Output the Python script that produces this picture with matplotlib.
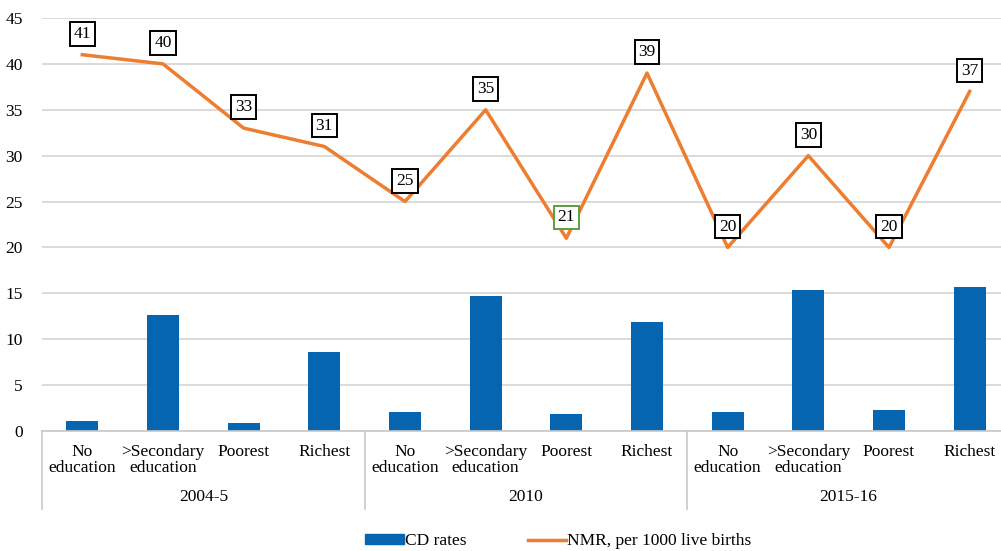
import numpy as np
import matplotlib.pyplot as plt
from matplotlib.lines import Line2D
from matplotlib.patches import Patch

plt.rcParams['font.family'] = ['Liberation Serif', 'DejaVu Serif']

# datos
grupos = ['2004-5', '2010', '2015-16']
categorias = ['No\neducation', '>Secondary\neducation', 'Poorest', 'Richest'] * 3
cd_rates = [1.1, 12.6, 0.9, 8.6, 2.1, 14.7, 1.8, 11.9, 2.1, 15.4, 2.3, 15.7]
nmr = [41, 40, 33, 31, 25, 35, 21, 39, 20, 30, 20, 37]

azul = '#0565b0'
naranja = '#ed7d31'
fs = 12.5

fig = plt.figure(figsize=(10.01, 5.51), dpi=100)
ax = fig.add_axes([42 / 1001, 120 / 551, 968 / 1001, 413 / 551])

x = np.arange(len(categorias))
ax.bar(x, cd_rates, width=0.4, color=azul, zorder=2)
ax.plot(x, nmr, color=naranja, lw=2.5, zorder=3)

# etiquetas con recuadro sobre cada punto
for i, v in enumerate(nmr):
    borde = '#5aa040' if i == 6 else 'black'
    ax.annotate(str(v), (i, v), xytext=(0, 15), textcoords='offset points',
                ha='center', va='center', fontsize=fs, zorder=4,
                bbox=dict(boxstyle='square,pad=0.22', fc='white', ec=borde, lw=1.4))

ax.set_xlim(-0.5, 11.5)
ax.set_ylim(0, 45)
ax.set_yticks(range(0, 50, 5))
ax.yaxis.grid(True, color='#d4d4d4', lw=1.2, zorder=0)
ax.set_axisbelow(True)
for s in ['top', 'right', 'left']:
    ax.spines[s].set_visible(False)
ax.spines['bottom'].set_color('#c8c8c8')
ax.spines['bottom'].set_linewidth(1.2)
ax.tick_params(axis='y', length=0, labelsize=fs, pad=14)
ax.set_xticks(x)
ax.set_xticklabels(categorias, fontsize=fs, linespacing=1.0)
ax.tick_params(axis='x', length=0, pad=9)

# separadores y nombres de los grupos
trans = ax.get_xaxis_transform()
for b in [-0.5, 3.5, 7.5]:
    ax.add_line(Line2D([b, b], [0, -0.19], transform=trans, color='#c8c8c8',
                       lw=1.2, clip_on=False))
for j, g in enumerate(grupos):
    ax.text(4 * j + 1.5, -0.16, g, transform=trans, ha='center', va='center',
            fontsize=fs)

handles = [Patch(color=azul, label='CD rates'),
           Line2D([], [], color=naranja, lw=2.5, label='NMR, per 1000 live births')]
fig.legend(handles=handles, loc='center', bbox_to_anchor=(0.558, 0.018), ncol=2,
           frameon=False, fontsize=fs, handlelength=2.2, handleheight=0.5,
           handletextpad=0.1, columnspacing=3.5)

fig.savefig('out.png', dpi=100)
